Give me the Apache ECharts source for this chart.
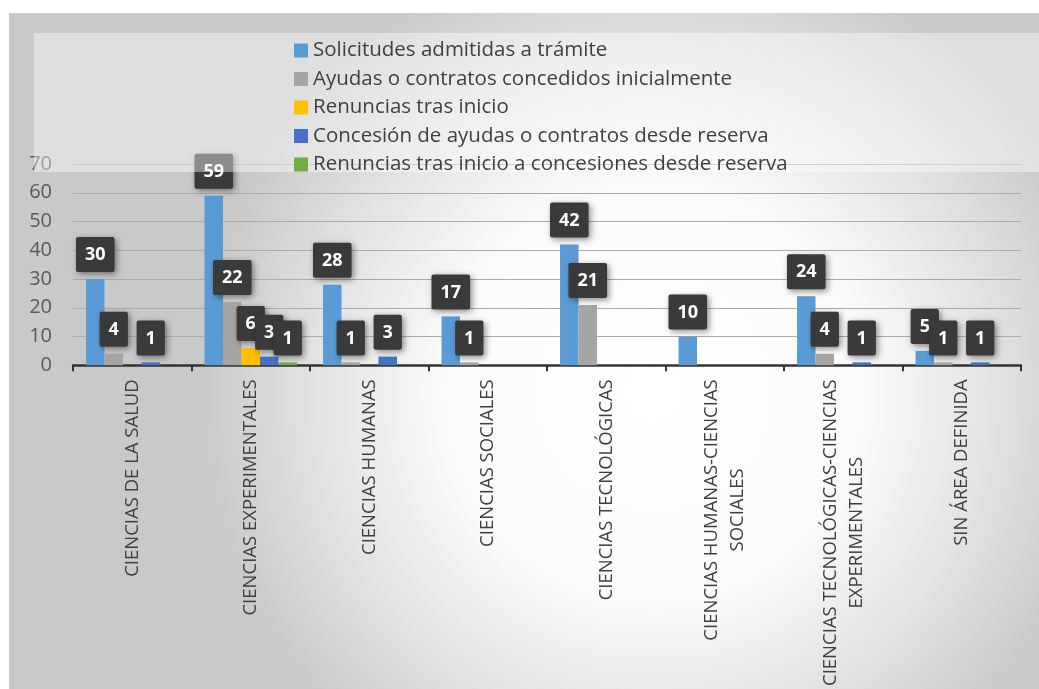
<!DOCTYPE html>
<html>
<head>
<meta charset="utf-8">
<script src="https://cdn.jsdelivr.net/npm/echarts@6/dist/echarts.min.js"></script>
<style>
html,body{margin:0;padding:0;background:#fff;}
#chart{width:1039px;height:689px;}
</style>
</head>
<body>
<div id="chart"></div>
<script>
var categories = [
  'CIENCIAS DE LA SALUD',
  'CIENCIAS EXPERIMENTALES',
  'CIENCIAS HUMANAS',
  'CIENCIAS SOCIALES',
  'CIENCIAS TECNOLÓGICAS',
  'CIENCIAS HUMANAS-CIENCIAS\nSOCIALES',
  'CIENCIAS TECNOLÓGICAS-CIENCIAS\nEXPERIMENTALES',
  'SIN ÁREA DEFINIDA'
];
var seriesNames = [
  'Solicitudes admitidas a trámite',
  'Ayudas o contratos concedidos inicialmente',
  'Renuncias tras inicio',
  'Concesión de ayudas o contratos desde reserva',
  'Renuncias tras inicio a concesiones desde reserva'
];
var solicitudes = [30, 59, 28, 17, 42, 10, 24, 5];
var ayudas      = [4, 22, 1, 1, 21, null, 4, 1];
var renuncias   = [null, 6, null, null, null, null, null, null];
var concesion   = [1, 3, 3, null, null, null, 1, 1];
var renunciasReserva = [null, 1, null, null, null, null, null, null];
var yTicks = [0, 10, 20, 30, 40, 50, 60, 70];

var colors = ['#5B9BD5', '#A5A5A5', '#FFC000', '#4472C4', '#70AD47'];
var allData = [solicitudes, ayudas, renuncias, concesion, renunciasReserva];

var FONT = '"Open Sans", "Liberation Sans", sans-serif';

var chart = echarts.init(document.getElementById('chart'), null, {renderer: 'canvas'});

var series = allData.map(function (d, i) {
  return {
    name: seriesNames[i],
    type: 'bar',
    data: d,
    barGap: '0%',
    barCategoryGap: '22%',
    itemStyle: {color: colors[i]},
    label: {
      show: true,
      position: 'top',
      distance: 7,
      formatter: function (p) { return p.value == null ? '' : String(p.value); },
      color: '#ffffff',
      fontFamily: FONT,
      fontWeight: 'bold',
      fontSize: 18,
      lineHeight: 20,
      backgroundColor: '#3a3a3a',
      padding: [8, 9, 7, 9],
      borderRadius: 2,
      shadowColor: 'rgba(0,0,0,0.45)',
      shadowBlur: 6,
      shadowOffsetX: 2,
      shadowOffsetY: 2
    }
  };
});

var option = {
  animation: false,
  color: colors,
  graphic: [
    {
      type: 'rect',
      z: -10,
      silent: true,
      shape: {x: 9, y: 13, width: 1040, height: 690},
      style: {
        fill: {
          type: 'radial', x: 0.62, y: 0.55, r: 0.66,
          colorStops: [
            {offset: 0, color: '#ffffff'},
            {offset: 0.45, color: '#fbfbfb'},
            {offset: 0.75, color: '#e2e2e2'},
            {offset: 1, color: '#c9c9c9'}
          ]
        }
      }
    },
    {
      type: 'rect',
      z: 3,
      silent: true,
      shape: {x: 34, y: 33, width: 1010, height: 139},
      style: {fill: 'rgba(255,255,255,0.42)'}
    }
  ],
  legend: {
    orient: 'vertical',
    left: 289,
    top: 35,
    itemWidth: 14,
    itemHeight: 14,
    itemGap: 7.5,
    icon: 'rect',
    z: 5,
    textStyle: {fontFamily: FONT, fontSize: 20.5, lineHeight: 20.5, color: '#404040'},
    data: seriesNames
  },
  grid: {left: 73, right: 18, top: 164, bottom: 323, containLabel: false},
  xAxis: {
    type: 'category',
    data: categories,
    axisLine: {show: true, lineStyle: {color: '#333333', width: 2.5}},
    axisTick: {show: true, length: 6, lineStyle: {color: '#333333', width: 2}},
    axisLabel: {
      rotate: 90,
      margin: 14,
      interval: 0,
      formatter: function (v) {
        return v.split('\n').map(function (s) { return '{c|' + s + '}'; }).join('\n');
      },
      rich: {
        c: {align: 'center', fontFamily: FONT, fontSize: 18.5, lineHeight: 26, color: '#404040'}
      }
    }
  },
  yAxis: {
    type: 'value',
    min: 0,
    max: 70,
    interval: 10,
    axisLine: {show: false},
    axisTick: {show: false},
    axisLabel: {
      margin: 21,
      fontFamily: FONT,
      fontSize: 20,
      color: '#595959',
      formatter: function (v) { return yTicks.indexOf(v) >= 0 ? String(v) : ''; }
    },
    splitLine: {lineStyle: {color: '#ababab', width: 1.2}}
  },
  series: series
};

chart.setOption(option);
</script>
</body>
</html>
